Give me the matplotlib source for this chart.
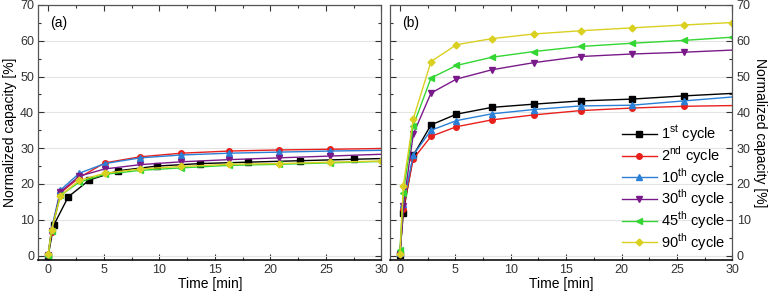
"""Normalized capacity vs time, two panels"""
import matplotlib
matplotlib.use("Agg")
import matplotlib.pyplot as plt
from matplotlib.ticker import MultipleLocator

plt.rcParams["font.family"] = ["Liberation Sans", "DejaVu Sans"]
plt.rcParams["mathtext.fontset"] = "custom"
plt.rcParams["mathtext.rm"] = "Liberation Sans"

labels = ["1$^{\\mathrm{st}}$ cycle", "2$^{\\mathrm{nd}}$ cycle",
          "10$^{\\mathrm{th}}$ cycle", "30$^{\\mathrm{th}}$ cycle",
          "45$^{\\mathrm{th}}$ cycle", "90$^{\\mathrm{th}}$ cycle"]
colors = ["#000000", "#e8201c", "#2a7fd6", "#7a1a8a", "#33d633", "#d9d020"]
markers = ["s", "o", "^", "v", "<", "D"]

# panel (a)
t_a_black = [0, 0.5, 1.8, 3.7, 6.3, 9.8, 13.7, 18.0, 22.7, 27.5, 30]
y_a_black = [0, 8.5, 16.4, 21.1, 23.7, 25.0, 25.7, 26.1, 26.5, 26.9, 27.1]
t_a = [0, 0.3, 1.1, 2.8, 5.1, 8.3, 12.0, 16.3, 20.8, 25.4, 30]
y_a_red = [0.3, 6.5, 17.5, 21.8, 25.9, 27.6, 28.6, 29.2, 29.5, 29.7, 29.9]
y_a_blue = [0.5, 7.5, 18.3, 23.0, 25.7, 27.3, 28.1, 28.6, 28.9, 29.2, 29.4]
y_a_purple = [0.3, 7.0, 17.8, 22.2, 24.2, 25.4, 26.2, 26.8, 27.3, 27.8, 28.3]
y_a_green = [0.0, 7.0, 16.8, 20.5, 22.7, 23.8, 24.5, 25.2, 25.5, 25.9, 26.3]
y_a_yellow = [0.5, 7.2, 16.7, 21.0, 23.0, 24.2, 24.9, 25.5, 25.7, 26.1, 26.4]

# panel (b)
t_b = [0, 0.3, 1.2, 2.8, 5.1, 8.3, 12.1, 16.3, 20.9, 25.6, 30]
y_b_black = [0.3, 12.0, 28.0, 36.5, 39.5, 41.4, 42.3, 43.2, 43.7, 44.6, 45.3]
y_b_red = [0.5, 13.0, 27.0, 33.3, 36.0, 37.9, 39.3, 40.5, 41.2, 41.7, 41.9]
y_b_blue = [0.8, 14.4, 28.1, 35.0, 37.7, 39.6, 40.8, 41.8, 42.0, 43.2, 44.3]
y_b_purple = [0.4, 13.9, 33.9, 45.4, 49.3, 51.9, 53.9, 55.6, 56.3, 56.8, 57.4]
y_b_green = [1.6, 17.6, 36.3, 49.6, 53.1, 55.4, 57.0, 58.4, 59.3, 60.1, 61.0]
y_b_yellow = [0.4, 19.5, 38.2, 54.2, 58.9, 60.6, 61.9, 62.8, 63.6, 64.4, 65.1]

series_a = [(t_a_black, y_a_black), (t_a, y_a_red), (t_a, y_a_blue),
            (t_a, y_a_purple), (t_a, y_a_green), (t_a, y_a_yellow)]
series_b = [(t_b, y_b_black), (t_b, y_b_red), (t_b, y_b_blue),
            (t_b, y_b_purple), (t_b, y_b_green), (t_b, y_b_yellow)]
# which series carry a marker at t = 30
end_mark_a = [False, False, False, False, False, True]
end_mark_b = [False, False, False, False, True, True]

fig = plt.figure(figsize=(7.8, 2.92), dpi=100)
ax_a = fig.add_axes([0.049, 0.11, 0.440, 0.873])
ax_b = fig.add_axes([0.500, 0.11, 0.439, 0.873])


def style_axes(ax, right_labels=False):
    ax.set_xlim(-0.9, 30)
    ax.set_ylim(-1.2, 70)
    ax.xaxis.set_major_locator(MultipleLocator(5))
    ax.xaxis.set_minor_locator(MultipleLocator(2.5))
    ax.yaxis.set_major_locator(MultipleLocator(10))
    ax.yaxis.set_minor_locator(MultipleLocator(5))
    ax.grid(axis="y", which="major", color="#e4e4e4", linewidth=0.8)
    ax.set_axisbelow(True)
    ax.tick_params(which="both", direction="in", top=True, right=True,
                   labelsize=9, colors="#333333", pad=3)
    ax.tick_params(which="major", length=4, width=0.8)
    ax.tick_params(which="minor", length=2.5, width=0.8)
    for side in ["left", "right", "top"]:
        ax.spines[side].set_color("#555555")
        ax.spines[side].set_linewidth(0.9)
    ax.spines["bottom"].set_color("#111111")
    ax.spines["bottom"].set_linewidth(1.2)
    ax.set_xlabel("Time [min]", fontsize=10, labelpad=1)
    if right_labels:
        ax.yaxis.tick_right()
        ax.tick_params(which="both", left=True, labelleft=False,
                       labelright=True)
        ax.yaxis.set_label_position("right")
        ax.set_ylabel("Normalized capacity [%]", fontsize=10, rotation=-90,
                      labelpad=12)
    else:
        ax.set_ylabel("Normalized capacity [%]", fontsize=10, labelpad=2)


for ax, series, end_marks in [(ax_a, series_a, end_mark_a),
                              (ax_b, series_b, end_mark_b)]:
    for (t, y), lab, c, m, em in zip(series, labels, colors, markers, end_marks):
        n = len(t)
        every = list(range(n)) if em else list(range(n - 1))
        ax.plot(t, y, color=c, marker=m, markevery=every,
                markersize=4 if m != "D" else 3.5, linewidth=1.0, label=lab)

style_axes(ax_a)
style_axes(ax_b, right_labels=True)

ax_a.text(0.035, 0.915, "(a)", transform=ax_a.transAxes, fontsize=10)
ax_b.text(0.035, 0.915, "(b)", transform=ax_b.transAxes, fontsize=10)

ax_b.legend(loc="lower right", frameon=False, fontsize=10.5, handlelength=2.4,
            handletextpad=0.3, labelspacing=0.0, borderaxespad=0.1,
            bbox_to_anchor=(1.0, 0.0))

fig.savefig("out.png", dpi=100)
